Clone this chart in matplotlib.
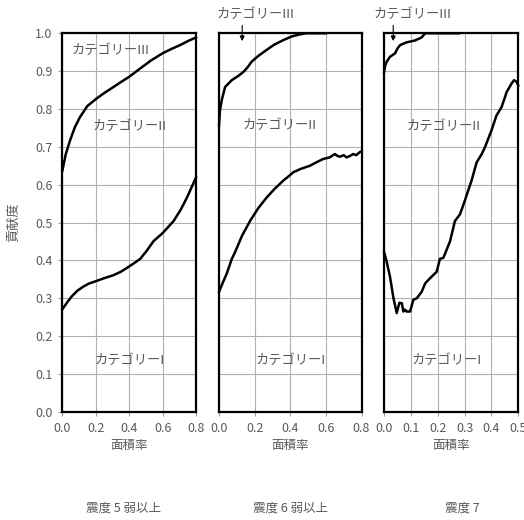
import matplotlib
matplotlib.use("Agg")
import matplotlib.pyplot as plt

plt.rcParams["font.family"] = ["Noto Sans CJK JP", "DejaVu Sans"]
plt.rcParams["axes.unicode_minus"] = False

GRAY = "#595959"

# --- 震度5弱以上 ---
p1_up_x = [0.0, 0.02, 0.046, 0.075, 0.106, 0.15, 0.2, 0.25, 0.306, 0.35, 0.4, 0.466, 0.53, 0.6, 0.65, 0.706, 0.75, 0.8]
p1_up_y = [0.637, 0.68, 0.717, 0.752, 0.779, 0.808, 0.826, 0.842, 0.858, 0.871, 0.885, 0.907, 0.928, 0.947, 0.958, 0.969, 0.979, 0.989]
p1_lo_x = [0.0, 0.03, 0.056, 0.09, 0.126, 0.16, 0.2, 0.25, 0.306, 0.35, 0.4, 0.44, 0.466, 0.506, 0.546, 0.6, 0.666, 0.71, 0.746, 0.8]
p1_lo_y = [0.271, 0.29, 0.305, 0.32, 0.331, 0.339, 0.345, 0.353, 0.361, 0.37, 0.384, 0.396, 0.404, 0.426, 0.451, 0.472, 0.504, 0.535, 0.566, 0.619]

# --- 震度6弱以上 ---
p2_up_x = [0.0, 0.005, 0.015, 0.034, 0.071, 0.11, 0.137, 0.16, 0.183, 0.22, 0.267, 0.31, 0.361, 0.41, 0.454, 0.49, 0.6]
p2_up_y = [0.757, 0.795, 0.823, 0.858, 0.876, 0.888, 0.898, 0.91, 0.925, 0.94, 0.956, 0.97, 0.982, 0.992, 0.997, 1.0, 1.0]
p2_lo_x = [0.0, 0.02, 0.043, 0.071, 0.09, 0.13, 0.174, 0.22, 0.267, 0.31, 0.361, 0.39, 0.417, 0.46, 0.51, 0.55, 0.585, 0.62, 0.65, 0.665, 0.678, 0.7, 0.716, 0.735, 0.753, 0.77, 0.79, 0.8]
p2_lo_y = [0.317, 0.34, 0.365, 0.403, 0.422, 0.466, 0.504, 0.538, 0.566, 0.588, 0.611, 0.622, 0.633, 0.642, 0.65, 0.66, 0.668, 0.672, 0.681, 0.676, 0.674, 0.678, 0.672, 0.676, 0.681, 0.678, 0.686, 0.688]

# --- 震度7 ---
p3_up_x = [0.0, 0.004, 0.01, 0.022, 0.041, 0.05, 0.06, 0.084, 0.115, 0.14, 0.153, 0.28]
p3_up_y = [0.898, 0.915, 0.925, 0.938, 0.947, 0.96, 0.969, 0.976, 0.981, 0.989, 1.0, 1.0]
p3_lo_x = [0.0, 0.01, 0.022, 0.035, 0.047, 0.057, 0.066, 0.072, 0.078, 0.084, 0.097, 0.109, 0.122, 0.14, 0.153, 0.159, 0.177, 0.196, 0.208,
           0.221, 0.246, 0.264, 0.283, 0.301, 0.326, 0.345, 0.364, 0.376, 0.4, 0.419, 0.438, 0.457, 0.475, 0.484, 0.494, 0.5]
p3_lo_y = [0.422, 0.396, 0.357, 0.3, 0.261, 0.288, 0.287, 0.265, 0.27, 0.265, 0.265, 0.296, 0.3, 0.317, 0.339, 0.344, 0.357, 0.37, 0.404,
           0.407, 0.451, 0.504, 0.522, 0.558, 0.611, 0.659, 0.681, 0.699, 0.743, 0.783, 0.805, 0.845, 0.867, 0.876, 0.872, 0.862]

panels = [
    dict(rect=[0.119, 0.208, 0.255, 0.728], xmax=0.8, xticks=[0.0, 0.2, 0.4, 0.6, 0.8],
         curves=[(p1_up_x, p1_up_y), (p1_lo_x, p1_lo_y)],
         lab3=(0.29, 0.954), lab2=(0.40, 0.754), lab1=(0.40, 0.135), arrow=None,
         title="震度 5 弱以上", title_x=0.46),
    dict(rect=[0.418, 0.208, 0.272, 0.728], xmax=0.8, xticks=[0.0, 0.2, 0.4, 0.6, 0.8],
         curves=[(p2_up_x, p2_up_y), (p2_lo_x, p2_lo_y)],
         lab3=None, lab2=(0.34, 0.757), lab1=(0.40, 0.135), arrow=((0.203, 1.049), 0.13),
         title="震度 6 弱以上", title_x=0.5),
    dict(rect=[0.733, 0.208, 0.256, 0.728], xmax=0.5, xticks=[0.0, 0.1, 0.2, 0.3, 0.4, 0.5],
         curves=[(p3_up_x, p3_up_y), (p3_lo_x, p3_lo_y)],
         lab3=None, lab2=(0.22, 0.754), lab1=(0.233, 0.135), arrow=((0.104, 1.049), 0.034),
         title="震度 7", title_x=0.58),
]

fig = plt.figure(figsize=(5.24, 5.20), dpi=100)

for i, p in enumerate(panels):
    ax = fig.add_axes(p["rect"])
    for cx, cy in p["curves"]:
        ax.plot(cx, cy, color="black", lw=1.8, solid_joinstyle="round", clip_on=False, zorder=3)
    ax.set_xlim(0, p["xmax"])
    ax.set_ylim(0, 1.0)
    ax.set_xticks(p["xticks"])
    ax.set_xticklabels([f"{t:.1f}" for t in p["xticks"]])
    ax.set_yticks([k / 10 for k in range(11)])
    if i == 0:
        ax.set_yticklabels([f"{k / 10:.1f}" for k in range(11)])
        ax.set_ylabel("貢献度", color=GRAY, fontsize=9.5, labelpad=11)
    else:
        ax.set_yticklabels([])
    ax.grid(True, color="#b0b0b0", lw=0.8)
    ax.set_axisbelow(True)
    ax.tick_params(colors="#a0a0a0", labelcolor=GRAY, labelsize=9, length=3, width=0.8, pad=4)
    if i > 0:
        ax.tick_params(axis="y", length=0)
    for s in ax.spines.values():
        s.set_color("black")
        s.set_linewidth(1.6)
    ax.set_xlabel("面積率", color=GRAY, fontsize=9, labelpad=3)

    kw = dict(color=GRAY, fontsize=9.5, ha="center", va="center")
    if p["lab3"]:
        ax.text(p["lab3"][0], p["lab3"][1], "カテゴリーIII", **kw)
    ax.text(p["lab2"][0], p["lab2"][1], "カテゴリーII", **kw)
    ax.text(p["lab1"][0], p["lab1"][1], "カテゴリーI", **kw)
    if p["arrow"]:
        (tx, ty), ax_x = p["arrow"]
        ax.text(tx, ty, "カテゴリーIII", clip_on=False, **kw)
        ax.annotate("", xy=(ax_x, 0.972), xytext=(ax_x, 1.028),
                    arrowprops=dict(arrowstyle="-|>", color="black", lw=0.8, mutation_scale=7),
                    annotation_clip=False)

    ax.text(p["title_x"], -0.255, p["title"], transform=ax.transAxes,
            color=GRAY, fontsize=9, ha="center", va="center")

fig.savefig("out.png", dpi=100)
